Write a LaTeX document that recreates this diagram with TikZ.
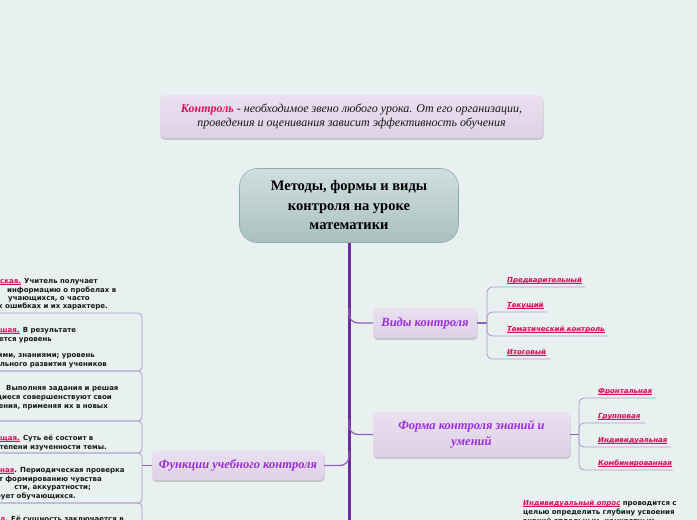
\documentclass[tikz,border=0pt]{standalone}
\usepackage{fontspec}
\setmainfont{Liberation Serif}
\newfontfamily\vfont{DejaVu Sans}
\usetikzlibrary{shadows}
\definecolor{bg}{RGB}{233,241,240}
\definecolor{crim}{RGB}{214,18,92}
\definecolor{hlpink}{RGB}{238,190,210}
\definecolor{purp}{RGB}{155,45,215}
\definecolor{trunkc}{RGB}{106,44,155}
\definecolor{linec}{RGB}{142,96,186}
\definecolor{thinc}{RGB}{172,152,205}
\definecolor{boxtop}{RGB}{234,224,240}
\definecolor{boxbot}{RGB}{222,208,230}
\definecolor{ctop}{RGB}{208,223,222}
\definecolor{cbot}{RGB}{170,193,191}
\definecolor{cborder}{RGB}{140,172,170}
\definecolor{txt}{RGB}{25,25,25}
\newcommand\hlt[1]{\setbox0\hbox{#1}\rlap{\color{hlpink}\rule[-1.5pt]{\wd0}{3.5pt}}\rlap{\color{crim}\rule[-1pt]{\wd0}{0.5pt}}\textcolor{crim}{#1}}
\tikzset{
  branch/.style={draw=none, rounded corners=4pt, top color=boxtop, bottom color=boxbot,
    drop shadow={shadow xshift=0.6pt,shadow yshift=-1.8pt,opacity=0.25,fill=black!70},
    text=purp, font=\fontsize{12.5}{16}\selectfont\bfseries\itshape, align=center, inner sep=0pt},
  topbox/.style={branch, text=txt, font=\fontsize{12}{14}\selectfont\itshape,
    minimum width=383pt, minimum height=43pt},
  central/.style={draw=cborder, line width=0.6pt, rounded corners=18pt, top color=ctop, bottom color=cbot,
    text=black, font=\fontsize{14.5}{19.5}\selectfont\bfseries, align=center, inner sep=0pt,
    minimum width=219pt, minimum height=74pt},
  trunk/.style={draw=trunkc, line width=3pt},
  conn/.style={draw=linec, line width=1.3pt, rounded corners=9pt},
  thinl/.style={draw=thinc, line width=0.8pt, rounded corners=5pt},
  lbox/.style={draw=thinc, line width=0.8pt, rounded corners=4pt},
  ritem/.style={anchor=base west, inner sep=0pt, font=\vfont\bfseries\itshape\fontsize{7}{8}\selectfont},
  ltxt/.style={anchor=base east, inner sep=0pt, text=txt, font=\vfont\bfseries\fontsize{7}{8}\selectfont},
  ltxtw/.style={ltxt, anchor=base west},
  rtxt/.style={anchor=base west, inner sep=0pt, text=txt, font=\vfont\bfseries\fontsize{7}{8}\selectfont},
}
\begin{document}
\begin{tikzpicture}[x=1pt,y=-1pt]
\fill[bg] (0,0) rectangle (697,520);
\useasboundingbox (0,0) rectangle (697,520);
\clip (0,0) rectangle (697,520);

% intro
\node[topbox] (intro) at (351.5,116.5) {{\color{crim}\bfseries Контроль} - необходимое звено любого урока. От его организации,\\проведения и оценивания зависит эффективность обучения};

% central
\node[central] (main) at (349,205.5) {Методы, формы и виды\\контроля на уроке\\математики};
\coordinate (tend) at (349,530);
\draw[trunk] (main.south) -- (tend);

% branches
\node[branch, minimum width=104pt, minimum height=30pt] (vidy) at (425,323) {Виды контроля};
\node[branch, minimum width=197pt, minimum height=45pt] (forma) at (471.5,434.5) {Форма контроля знаний и\\умений};
\node[branch, minimum width=172pt, minimum height=29pt] (func) at (238,465.5) {Функции учебного контроля};

\coordinate (jv) at (349,308);
\coordinate (jf) at (349,419);
\coordinate (jfu) at (349,451);
\draw[conn] (jv) |- (vidy.west);
\draw[conn] (jf) |- (forma.west);
\draw[conn] (jfu) |- (func.east);

% Виды контроля items
\coordinate (bv) at (487,323);
\draw[conn] (vidy.east) -- (bv);
\coordinate (v1) at (585,287);
\coordinate (v2) at (547,312);
\coordinate (v3) at (608,336);
\coordinate (v4) at (550,359);
\draw[thinl] (bv) |- (v1);
\draw[thinl] (bv) |- (v2);
\draw[thinl] (bv) |- (v3);
\draw[thinl] (bv) |- (v4);
\node[ritem] (tv1) at (507,282) {\hlt{Предварительный}};
\node[ritem] (tv2) at (507,307) {\hlt{Текущий}};
\node[ritem] (tv3) at (507,331) {\hlt{Тематический контроль}};
\node[ritem] (tv4) at (507,354) {\hlt{Итоговый}};

% Форма items
\coordinate (bf) at (579,434.5);
\draw[conn] (forma.east) -- (bf);
\coordinate (f1) at (656,398);
\coordinate (f2) at (645,423);
\coordinate (f3) at (671,447);
\coordinate (f4) at (673,470);
\draw[thinl] (bf) |- (f1);
\draw[thinl] (bf) |- (f2);
\draw[thinl] (bf) |- (f3);
\draw[thinl] (bf) |- (f4);
\node[ritem] (tf1) at (598,393) {\hlt{Фронтальная}};
\node[ritem] (tf2) at (598,418) {\hlt{Групповая}};
\node[ritem] (tf3) at (598,442) {\hlt{Индивидуальная}};
\node[ritem] (tf4) at (598,465) {\hlt{Комбинированная}};

% Функции items (left)
\coordinate (bl) at (142,465.5);
\draw[conn] (func.west) -- (bl);
\draw[lbox] (-20,313) rectangle (142,371);
\draw[lbox] (-20,371) rectangle (142,421);
\draw[lbox] (-20,421) rectangle (142,453);
\draw[lbox] (-20,453) rectangle (142,503);
\draw[lbox] (-20,503) rectangle (142,560);

\node[ltxtw] (a1) at (0,283.5) {\hlt{ская.} Учитель получает};
\node[ltxtw] (a2) at (7,292) {информацию о пробелах в};
\node[ltxtw] (a3) at (8,300.5) {учающихся, о часто};
\node[ltxt] (a4) at (108,308.5) {х ошибках и их характере.};

\node[ltxtw] (b1) at (0,332.5) {\hlt{шая.} В результате};
\node[ltxt] (b2) at (52,341) {ется уровень};
\node[ltxt] (b3) at (95,357.5) {ими, знаниями; уровень};
\node[ltxt] (b4) at (107,366.5) {льного развития учеников};

\node[ltxtw] (c1) at (6,390.5) {Выполняя задания и решая};
\node[ltxt] (c2) at (112,399.5) {щиеся совершенствуют свои};
\node[ltxt] (c3) at (108,408) {ения, применяя их в новых};

\node[ltxtw] (d1) at (0,440.5) {\hlt{щая.} Суть её состоит в};
\node[ltxt] (d2) at (107,449.5) {тепени изученности темы.};

\node[ltxtw] (e1) at (0,472.5) {\hlt{ная}. Периодическая проверка};
\node[ltxt] (e2) at (102,481) {т формированию чувства};
\node[ltxt] (e3) at (91,489.5) {сти, аккуратности;};
\node[ltxt] (e4) at (76,498.5) {рует обучающихся.};

\node[ltxtw] (g1) at (0,521.5) {\hlt{л.} Её сущность заключается в};

% bottom right text
\node[rtxt] (r1) at (523,505.5) {\hlt{\itshape Индивидуальный опрос} проводится с};
\node[rtxt] (r2) at (523,514.5) {целью определить глубину усвоения};
\node[rtxt] (r3) at (523,523.5) {знаний отдельным, конкретным};
\end{tikzpicture}
\end{document}
